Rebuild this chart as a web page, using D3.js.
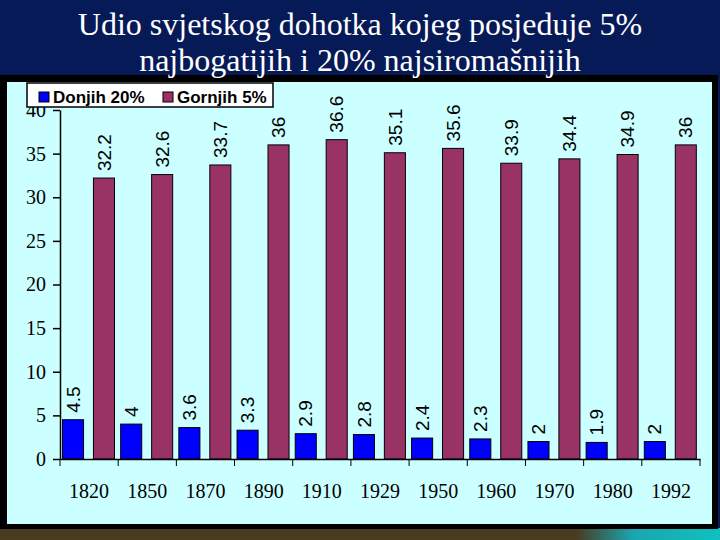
<!DOCTYPE html>
<html>
<head>
<meta charset="utf-8">
<script src="https://cdn.jsdelivr.net/npm/d3@7"></script>
<style>
  html, body { margin: 0; padding: 0; background: #061a57; }
  svg { display: block; }
  .serif { font-family: "Liberation Serif", "Times New Roman", Times, "DejaVu Serif", serif; }
  .sans { font-family: "Liberation Sans", Arial, Helvetica, sans-serif; }
</style>
</head>
<body>
<svg id="svg"></svg>
<script>
// data
const years = ["1820", "1850", "1870", "1890", "1910", "1929", "1950", "1960", "1970", "1980", "1992"];
const bottom20 = [4.5, 4, 3.6, 3.3, 2.9, 2.8, 2.4, 2.3, 2, 1.9, 2];
const top5 = [32.2, 32.6, 33.7, 36, 36.6, 35.1, 35.6, 33.9, 34.4, 34.9, 36];
const seriesNames = ["Donjih 20%", "Gornjih 5%"];
const yTicks = [0, 5, 10, 15, 20, 25, 30, 35, 40];
const titleLines = ["Udio svjetskog dohotka kojeg posjeduje 5%", "najbogatijih i 20% najsiromašnijih"];

const colors = { "Donjih 20%": "#0000ff", "Gornjih 5%": "#993366" };

let layout = {"width": 720,
              "height": 540,
              "marginTop": 110,
              "marginRight": 20,
              "marginBottom": 81,
              "marginLeft": 60};

let svgElement = d3.select("#svg")
  .attr("width", layout.width)
  .attr("height", layout.height);

// slide background
const defs = svgElement.append("defs");
const grad = defs.append("linearGradient").attr("id", "teal")
  .attr("x1", "0").attr("x2", "1").attr("y1", "0").attr("y2", "0");
grad.append("stop").attr("offset", "0").attr("stop-color", "#4a3a20");
grad.append("stop").attr("offset", "0.8").attr("stop-color", "#4a3a20");
grad.append("stop").attr("offset", "0.88").attr("stop-color", "#1aa6b0");
grad.append("stop").attr("offset", "1").attr("stop-color", "#10c0c0");

svgElement.append("rect").attr("width", 720).attr("height", 540).attr("fill", "#061a57");
svgElement.append("rect").attr("x", 0).attr("y", 528).attr("width", 720).attr("height", 12).attr("fill", "url(#teal)");
svgElement.append("rect").attr("x", 0).attr("y", 75).attr("width", 718).attr("height", 454).attr("fill", "#000");
svgElement.append("rect").attr("x", 7).attr("y", 82).attr("width", 705).attr("height", 442).attr("fill", "#ccffff");

// title
svgElement.selectAll(".title")
  .data(titleLines)
  .join("text")
  .attr("class", "title serif")
  .attr("x", 360)
  .attr("y", (d, i) => 35 + i * 36)
  .attr("text-anchor", "middle")
  .attr("fill", "#fff")
  .attr("font-size", 32)
  .text(d => d);

let xScale = d3.scaleBand()
  .domain(years)
  .range([layout.marginLeft, layout.width - layout.marginRight])
  .paddingInner(0).paddingOuter(0);

let xSub = d3.scaleBand()
  .domain(seriesNames)
  .range([2.5, 54.5])
  .paddingInner(0.32);

let yScale = d3.scaleLinear()
  .domain([0, 40])
  .range([layout.height - layout.marginBottom, layout.marginTop]);

const rows = years.map((y, i) => ({ year: y, values: [
  { name: seriesNames[0], value: bottom20[i] },
  { name: seriesNames[1], value: top5[i] }
]}));

// bars
const groups = svgElement.append("g").selectAll("g")
  .data(rows)
  .join("g")
  .attr("transform", d => `translate(${xScale(d.year)},0)`);

groups.selectAll("rect")
  .data(d => d.values)
  .join("rect")
  .attr("x", d => xSub(d.name))
  .attr("y", d => yScale(d.value))
  .attr("width", xSub.bandwidth())
  .attr("height", d => yScale(0) - yScale(d.value))
  .attr("fill", d => colors[d.name])
  .attr("stroke", "#000")
  .attr("stroke-width", 1);

groups.selectAll("text")
  .data(d => d.values)
  .join("text")
  .attr("class", "sans")
  .attr("transform", d => `translate(${xSub(d.name) + xSub.bandwidth() / 2},${yScale(d.value) - 7}) rotate(-90)`)
  .attr("dy", "0.35em")
  .attr("font-size", 19)
  .attr("fill", "#000")
  .text(d => d.value);

// y axis
const yAxis = svgElement.append("g")
  .attr("transform", `translate(${layout.marginLeft},0)`)
  .call(d3.axisLeft(yScale).tickValues(yTicks).tickSize(7).tickSizeOuter(0).tickPadding(7))
  .attr("font-family", null);
yAxis.selectAll("text")
  .attr("class", "serif")
  .attr("font-size", 20)
  .attr("fill", "#000");

// x axis
const xAxis = svgElement.append("g")
  .attr("transform", `translate(0,${yScale(0)})`)
  .call(d3.axisBottom(xScale).tickSize(0).tickSizeOuter(0).tickPadding(25))
  .attr("font-family", null);
xAxis.selectAll("text")
  .attr("class", "serif")
  .attr("font-size", 20)
  .attr("fill", "#000");

const boundaries = years.map(y => xScale(y)).concat([xScale.range()[1]]);
xAxis.selectAll(".bound")
  .data(boundaries)
  .join("line")
  .attr("class", "bound")
  .attr("x1", d => d).attr("x2", d => d)
  .attr("y1", 0).attr("y2", 7)
  .attr("stroke", "#000");

svgElement.selectAll(".domain, .tick line").attr("stroke", "#000").attr("stroke-width", 1.5);

// legend
const legend = svgElement.append("g");
legend.append("rect")
  .attr("x", 27).attr("y", 83).attr("width", 246).attr("height", 24)
  .attr("fill", "#fff").attr("stroke", "#000").attr("stroke-width", 1.5);

const legendX = [39, 163];
const items = legend.selectAll(".item")
  .data(seriesNames)
  .join("g")
  .attr("class", "item")
  .attr("transform", (d, i) => `translate(${legendX[i]},92)`);
items.append("rect")
  .attr("width", 10).attr("height", 10)
  .attr("fill", d => colors[d])
  .attr("stroke", "#000").attr("stroke-width", 1);
items.append("text")
  .attr("class", "sans")
  .attr("x", 14).attr("y", 5)
  .attr("dy", "0.36em")
  .attr("font-weight", "bold")
  .attr("font-size", 17)
  .attr("fill", "#000")
  .text(d => d);
</script>
</body>
</html>
